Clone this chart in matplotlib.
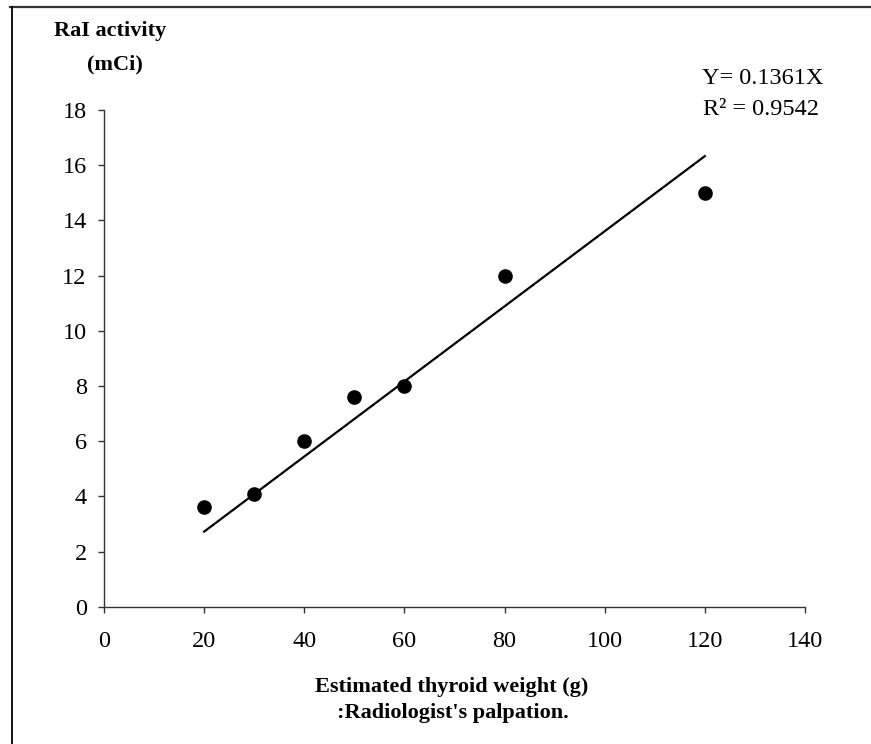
import numpy as np
import matplotlib.pyplot as plt
from matplotlib.lines import Line2D

plt.rcParams['font.family'] = ['Liberation Serif', 'DejaVu Serif']

weight = [20, 30, 40, 50, 60, 80, 120]
activity = [3.6, 4.1, 6.0, 7.6, 8.0, 12.0, 15.0]
slope = 0.1361
r2 = 0.9542
xticks = [0, 20, 40, 60, 80, 100, 120, 140]
yticks = [0, 2, 4, 6, 8, 10, 12, 14, 16, 18]

fig = plt.figure(figsize=(8.71, 7.44), dpi=100)
ax = fig.add_axes([0.1194, 0.1845, 0.8048, 0.6675])

ax.plot(weight, activity, 'o', color='black', markersize=9.5, zorder=3)
tx = np.array([min(weight), max(weight)])
ax.plot(tx, slope * tx, '-', color='black', lw=1.6)

ax.set_xlim(0, 140)
ax.set_ylim(0, 18)
ax.set_xticks(xticks)
ax.set_yticks(yticks)
for s in ['top', 'right']:
    ax.spines[s].set_visible(False)
for s in ['left', 'bottom']:
    ax.spines[s].set_color('#333333')
    ax.spines[s].set_linewidth(1.0)
ax.tick_params(direction='out', length=4.5, width=1.0, color='#333333',
               labelsize=17.5, pad=8)
ax.tick_params(axis='x', pad=13)

fig.text(0.876, 0.895, 'Y= %.4fX' % slope, fontsize=17.5,
         ha='center', va='center')
fig.text(0.874, 0.853, 'R² = %.4f' % r2, fontsize=17.5,
         ha='center', va='center')

fig.text(0.127, 0.958, 'RaI activity', fontsize=16, fontweight='bold',
         ha='center', va='center')
fig.text(0.132, 0.913, '(mCi)', fontsize=16, fontweight='bold',
         ha='center', va='center')
fig.text(0.519, 0.077, 'Estimated thyroid weight (g)', fontsize=16,
         fontweight='bold', ha='center', va='center')
fig.text(0.52, 0.042, ":Radiologist's palpation.", fontsize=16,
         fontweight='bold', ha='center', va='center')

# frame lines at top and left only
fig.add_artist(Line2D([0.012, 1.0], [0.99, 0.99], color='#333333', lw=1.6,
                      transform=fig.transFigure))
fig.add_artist(Line2D([0.0135, 0.0135], [0.0, 0.99], color='black', lw=1.3,
                      transform=fig.transFigure))

fig.savefig('out.png', dpi=100)
